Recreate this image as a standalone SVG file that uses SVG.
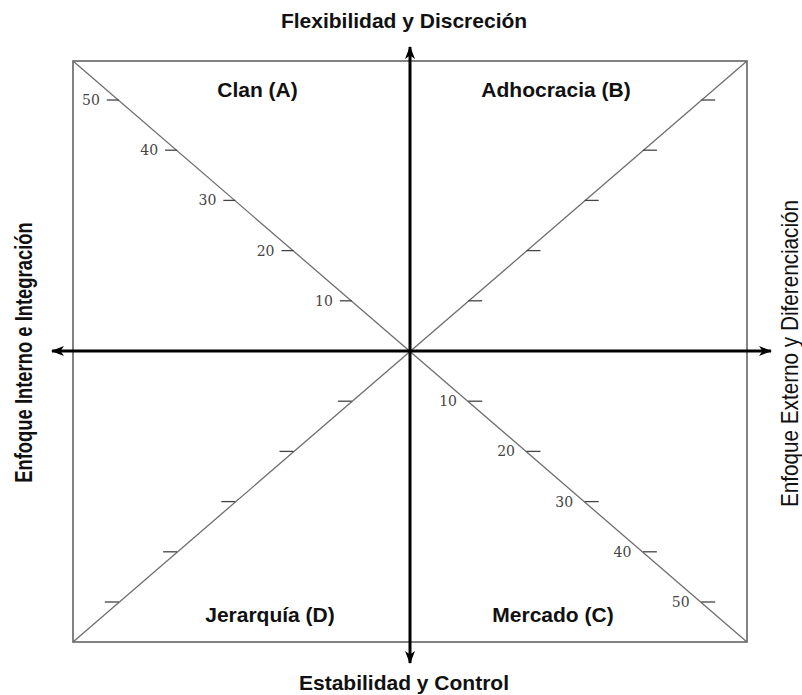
<svg xmlns="http://www.w3.org/2000/svg" width="802" height="695" viewBox="0 0 802 695">
<style>
.frame{fill:none;stroke:#5a5a5a;stroke-width:1.5}
.diag{stroke:#6e6e6e;stroke-width:1.3;fill:none}
.tick{stroke:#444;stroke-width:1.3}
.axis{stroke:#000;stroke-width:3;fill:none}
.num{font-family:"DejaVu Serif","Liberation Serif",serif;font-size:14px;fill:#444;text-anchor:end}
.quad{font-family:"Liberation Sans",Arial,sans-serif;font-weight:bold;font-size:21px;fill:#111;text-anchor:middle}
.side{font-family:"Liberation Sans",Arial,sans-serif;font-size:23px;fill:#111;text-anchor:middle}
</style>
<defs>
<marker id="ah" markerUnits="userSpaceOnUse" markerWidth="14" markerHeight="10" refX="12" refY="5" orient="auto">
<path d="M0,0 L13,5 L0,10 L3.5,5 Z" fill="#000"/>
</marker>
</defs>
<rect id="frame" class="frame" x="73" y="61" width="674" height="581"/>
<g id="diagonals">
<line class="diag" x1="73" y1="61" x2="747" y2="642"/>
<line class="diag" x1="747" y1="61" x2="73" y2="642"/>
</g>
<g id="ticks-A">
<line class="tick" x1="339.8" y1="300.8" x2="351.8" y2="300.8"/>
<line class="tick" x1="281.5" y1="250.6" x2="293.5" y2="250.6"/>
<line class="tick" x1="223.3" y1="200.4" x2="235.3" y2="200.4"/>
<line class="tick" x1="165.1" y1="150.2" x2="177.1" y2="150.2"/>
<line class="tick" x1="106.8" y1="100" x2="118.8" y2="100"/>
<text class="num" x="332.8" y="305.8">10</text>
<text class="num" x="274.5" y="255.6">20</text>
<text class="num" x="216.3" y="205.4">30</text>
<text class="num" x="158.1" y="155.2">40</text>
<text class="num" x="99.8" y="105">50</text>
</g>
<g id="ticks-B">
<line class="tick" x1="468.2" y1="300.8" x2="482.2" y2="300.8"/>
<line class="tick" x1="526.5" y1="250.6" x2="540.5" y2="250.6"/>
<line class="tick" x1="584.7" y1="200.4" x2="598.7" y2="200.4"/>
<line class="tick" x1="642.9" y1="150.2" x2="656.9" y2="150.2"/>
<line class="tick" x1="701.2" y1="100" x2="715.2" y2="100"/>
</g>
<g id="ticks-C">
<line class="tick" x1="468.2" y1="401.2" x2="482.2" y2="401.2"/>
<line class="tick" x1="526.5" y1="451.4" x2="540.5" y2="451.4"/>
<line class="tick" x1="584.7" y1="501.6" x2="598.7" y2="501.6"/>
<line class="tick" x1="642.9" y1="551.8" x2="656.9" y2="551.8"/>
<line class="tick" x1="701.2" y1="602" x2="715.2" y2="602"/>
<text class="num" x="457" y="406.2">10</text>
<text class="num" x="515" y="456.4">20</text>
<text class="num" x="573.2" y="506.6">30</text>
<text class="num" x="631.4" y="556.8">40</text>
<text class="num" x="689.7" y="607">50</text>
</g>
<g id="ticks-D">
<line class="tick" x1="337.8" y1="401.2" x2="351.8" y2="401.2"/>
<line class="tick" x1="279.5" y1="451.4" x2="293.5" y2="451.4"/>
<line class="tick" x1="221.3" y1="501.6" x2="235.3" y2="501.6"/>
<line class="tick" x1="163.1" y1="551.8" x2="177.1" y2="551.8"/>
<line class="tick" x1="104.8" y1="602" x2="118.8" y2="602"/>
</g>
<g id="connectors">
<line class="axis" x1="410" y1="351" x2="410" y2="47" marker-end="url(#ah)"/>
<line class="axis" x1="410" y1="351" x2="410" y2="663" marker-end="url(#ah)"/>
<line class="axis" x1="410" y1="351" x2="52" y2="351" marker-end="url(#ah)"/>
<line class="axis" x1="410" y1="351" x2="771" y2="351" marker-end="url(#ah)"/>
</g>
<g id="node-top"><text class="quad" x="404" y="28">Flexibilidad y Discreción</text></g>
<g id="node-bottom"><text class="quad" x="404" y="690">Estabilidad y Control</text></g>
<g id="node-clan"><text class="quad" x="257.5" y="97">Clan (A)</text></g>
<g id="node-adhocracia"><text class="quad" x="556" y="97">Adhocracia (B)</text></g>
<g id="node-jerarquia"><text class="quad" x="270" y="622">Jerarquía (D)</text></g>
<g id="node-mercado"><text class="quad" x="553" y="622">Mercado (C)</text></g>
<g id="node-left"><text class="side" font-weight="bold" transform="translate(32,352.5) rotate(-90) scale(0.8,1)">Enfoque Interno e Integración</text></g>
<g id="node-right"><text class="side" transform="translate(798,353.5) rotate(-90) scale(0.9,1)">Enfoque Externo y Diferenciación</text></g>
</svg>
